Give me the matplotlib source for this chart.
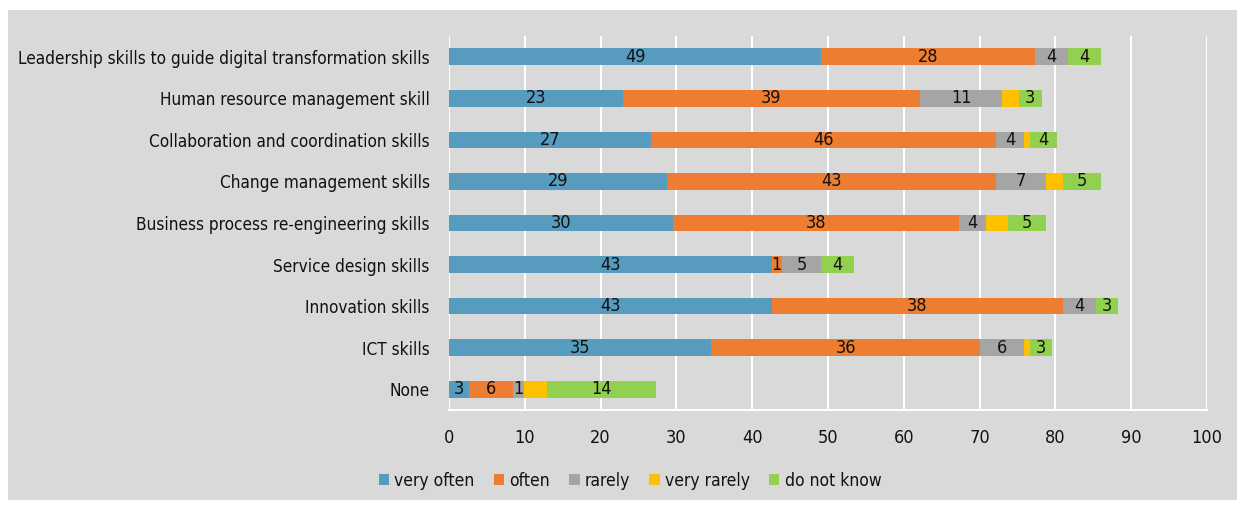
import matplotlib
matplotlib.use("Agg")
import matplotlib.pyplot as plt
from matplotlib import font_manager
from matplotlib.patches import Rectangle

# narrow face if one is around, else condensed DejaVu
names = {f.name for f in font_manager.fontManager.ttflist}
if "Liberation Sans Narrow" in names:
    plt.rcParams['font.family'] = ['Liberation Sans Narrow', 'DejaVu Sans']
else:
    plt.rcParams['font.family'] = ['DejaVu Sans']
    plt.rcParams['font.stretch'] = 'condensed'

# skills, listed bottom to top as barh draws them
categories = [
    "None",
    "ICT skills",
    "Innovation skills",
    "Service design skills",
    "Business process re-engineering skills",
    "Change management skills",
    "Collaboration and coordination skills",
    "Human resource management skill",
    "Leadership skills to guide digital transformation skills",
]

very_often = [2.7, 34.6, 42.6, 42.6, 29.6, 28.8, 26.7, 23.0, 49.1]
often = [5.8, 35.5, 38.4, 1.3, 37.7, 43.4, 45.5, 39.1, 28.2]
rarely = [1.4, 5.8, 4.3, 5.2, 3.6, 6.6, 3.7, 10.9, 4.4]
very_rarely = [3.0, 0.8, 0.0, 0.0, 2.9, 2.2, 0.7, 2.2, 0.0]
do_not_know = [14.4, 2.9, 2.9, 4.3, 5.0, 5.0, 3.6, 3.0, 4.3]

series = [
    ("very often", very_often, "#579bbf", True),
    ("often", often, "#ed7d31", True),
    ("rarely", rarely, "#a5a5a5", True),
    ("very rarely", very_rarely, "#ffc000", False),
    ("do not know", do_not_know, "#92d050", True),
]

bg = "#d9d9d9"
fig = plt.figure(figsize=(12.45, 5.09), dpi=100)
fig.patch.set_facecolor("white")
# grey panel with a thin white frame around it
fig.patches.append(Rectangle((8 / 1245, 9 / 509), 1229 / 1245, 490 / 509,
                             transform=fig.transFigure, facecolor=bg,
                             edgecolor="none", zorder=-5))

ax = fig.add_axes([449 / 1245, 1 - 410 / 509, 758 / 1245, 374 / 509])
ax.set_zorder(2)
ax.set_facecolor(bg)

left = [0.0] * len(categories)
for name, vals, color, labelled in series:
    bars = ax.barh(categories, vals, left=left, height=0.4, color=color,
                   label=name, zorder=3)
    if labelled:
        labels = [f"{v:.0f}" if v > 0 else "" for v in vals]
        ax.bar_label(bars, labels=labels, label_type="center", fontsize=13,
                     color="#111111")
    left = [a + b for a, b in zip(left, vals)]

ax.set_xlim(0, 100)
ax.set_ylim(-0.5, len(categories) - 0.5)
ax.set_xticks(range(0, 101, 10))
ax.grid(axis="x", color="white", linewidth=1.5, zorder=1)
for side in ["top", "right", "left"]:
    ax.spines[side].set_visible(False)
ax.spines["bottom"].set_color("white")
ax.spines["bottom"].set_linewidth(1.5)
ax.tick_params(axis="x", length=0, pad=14, labelsize=13, labelcolor="#111111")
ax.tick_params(axis="y", length=0, pad=14, labelsize=12.3, labelcolor="#111111")

leg = ax.legend(loc="center", bbox_to_anchor=(630 / 1245, 1 - 481 / 509),
                bbox_transform=fig.transFigure, ncol=5, frameon=False,
                fontsize=12.5, handlelength=0.6, handleheight=0.6,
                handletextpad=0.3, columnspacing=1.1, labelcolor="#111111")

fig.savefig("out.png", dpi=100, facecolor=fig.get_facecolor())
